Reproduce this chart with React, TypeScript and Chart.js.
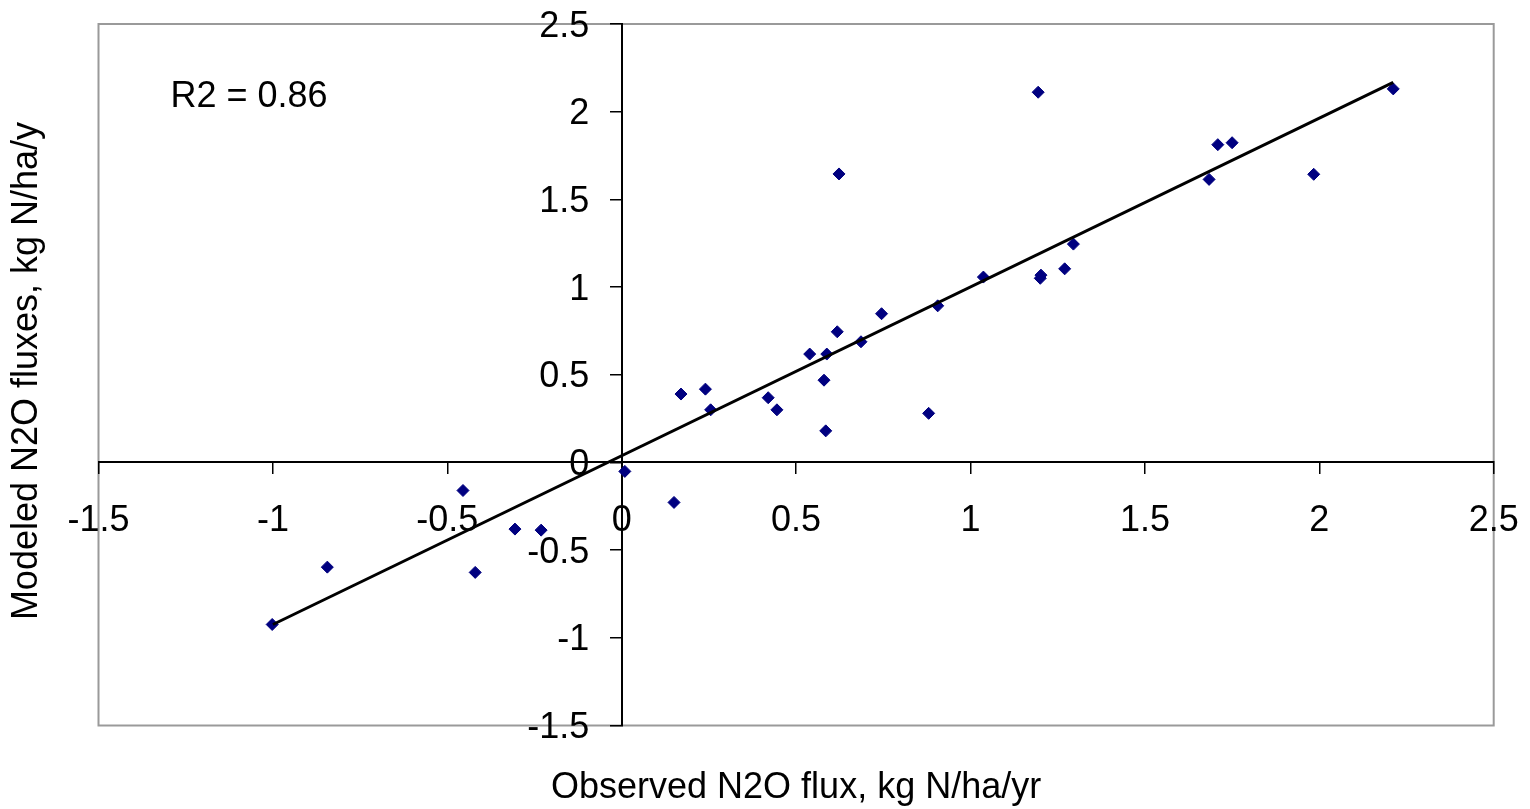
import React, { useEffect, useRef } from "react";
import { Chart, registerables } from "chart.js";

Chart.register(...registerables);

// Observed (x) vs modeled (y) N2O fluxes, kg N/ha/yr
const observed = [
  -1.002, -0.844, -0.455, -0.42, -0.306, -0.231, 0.009, 0.15, 0.17, 0.24, 0.255,
  0.42, 0.445, 0.539, 0.58, 0.588, 0.585, 0.618, 0.623, 0.686, 0.745, 0.88, 0.906,
  1.037, 1.194, 1.2, 1.202, 1.27, 1.295, 1.684, 1.709, 1.75, 1.984, 2.212,
];
const modeled = [
  -0.924, -0.597, -0.16, -0.627, -0.38, -0.386, -0.051, -0.228, 0.39, 0.418, 0.3,
  0.369, 0.3, 0.618, 0.469, 0.618, 0.18, 0.745, 1.645, 0.688, 0.848, 0.28, 0.893,
  1.057, 2.111, 1.05, 1.068, 1.104, 1.245, 1.614, 1.812, 1.823, 1.643, 2.13,
];

// Linear trendline end points
const trendX = [-1.0, 2.212];
const trendY = [-0.924, 2.167];

// Axis ticks
const xTicks = [-1.5, -1, -0.5, 0, 0.5, 1, 1.5, 2, 2.5];
const xTickLabels = ["-1.5", "-1", "-0.5", "0", "0.5", "1", "1.5", "2", "2.5"];
const yTicks = [-1.5, -1, -0.5, 0, 0.5, 1, 1.5, 2, 2.5];
const yTickLabels = ["-1.5", "-1", "-0.5", "0", "0.5", "1", "1.5", "2", "2.5"];

const xTitle = "Observed N2O flux, kg N/ha/yr";
const yTitle = "Modeled N2O fluxes, kg N/ha/y";
const r2Text = "R2 = 0.86";

const FONT = "36px 'Liberation Sans', Arial, sans-serif";

const decorPlugin = {
  id: "decor",
  beforeDraw(chart: any) {
    const { ctx, chartArea, width, height } = chart;
    ctx.save();
    ctx.fillStyle = "#ffffff";
    ctx.fillRect(0, 0, width, height);
    ctx.strokeStyle = "#9a9a9a";
    ctx.lineWidth = 2;
    ctx.strokeRect(
      chartArea.left,
      chartArea.top,
      chartArea.right - chartArea.left,
      chartArea.bottom - chartArea.top
    );
    ctx.restore();
  },
  afterDraw(chart: any) {
    const { ctx, chartArea } = chart;
    const xs = chart.scales.x;
    const ys = chart.scales.y;
    const x0 = xs.getPixelForValue(0);
    const y0 = ys.getPixelForValue(0);
    ctx.save();
    ctx.fillStyle = "#000000";
    ctx.font = FONT;
    ctx.textBaseline = "alphabetic";

    // x tick labels
    ctx.textAlign = "center";
    xTicks.forEach((v, i) => {
      ctx.fillText(xTickLabels[i], xs.getPixelForValue(v), y0 + 68.5);
    });

    // y tick labels
    ctx.textAlign = "right";
    yTicks.forEach((v, i) => {
      ctx.fillText(yTickLabels[i], x0 - 32.5, ys.getPixelForValue(v) + 12.5);
    });

    // R2 annotation
    ctx.textAlign = "left";
    ctx.fillText(r2Text, 170.5, 107);

    // x title
    ctx.textAlign = "center";
    ctx.fillText(xTitle, (chartArea.left + chartArea.right) / 2, 798);

    // y title
    ctx.translate(37, 371);
    ctx.rotate(-Math.PI / 2);
    ctx.textAlign = "center";
    ctx.fillText(yTitle, 0, 0);
    ctx.restore();
  },
};

export default function App() {
  const canvasRef = useRef<HTMLCanvasElement | null>(null);

  useEffect(() => {
    if (!canvasRef.current) return;
    const chart = new Chart(canvasRef.current, {
      type: "scatter",
      data: {
        datasets: [
          {
            type: "line",
            label: "Trend",
            data: trendX.map((x, i) => ({ x, y: trendY[i] })),
            borderColor: "#000000",
            borderWidth: 3,
            pointRadius: 0,
            fill: false,
            tension: 0,
          } as any,
          {
            label: "N2O",
            data: observed.map((x, i) => ({ x, y: modeled[i] })),
            backgroundColor: "#000080",
            borderColor: "#000080",
            borderWidth: 1,
            pointStyle: "rectRot",
            pointRadius: 6,
            pointHoverRadius: 6,
          },
        ],
      },
      options: {
        responsive: false,
        animation: false,
        devicePixelRatio: 1,
        layout: {
          padding: { left: 98.5, right: 36.3, top: 24, bottom: 83.5 },
        },
        plugins: {
          legend: { display: false },
          tooltip: { enabled: false },
          title: { display: false },
        },
        scales: {
          x: {
            type: "linear",
            min: -1.5,
            max: 2.5,
            position: { y: 0 } as any,
            ticks: { stepSize: 0.5, display: false },
            grid: {
              drawOnChartArea: false,
              drawTicks: true,
              tickLength: 11,
              color: "#000000",
              lineWidth: 1.5,
            },
            border: { display: true, color: "#000000", width: 2 },
            afterFit: (s: any) => {
              s.height = 0;
            },
          },
          y: {
            type: "linear",
            min: -1.5,
            max: 2.5,
            position: { x: 0 } as any,
            ticks: { stepSize: 0.5, display: false },
            grid: {
              drawOnChartArea: false,
              drawTicks: true,
              tickLength: 11,
              color: "#000000",
              lineWidth: 1.5,
            },
            border: { display: true, color: "#000000", width: 2 },
            afterFit: (s: any) => {
              s.width = 0;
            },
          },
        },
      },
      plugins: [decorPlugin],
    });
    return () => chart.destroy();
  }, []);

  return (
    <div style={{ position: "fixed", left: 0, top: 0, width: 1530, height: 809, background: "#fff" }}>
      <canvas ref={canvasRef} width={1530} height={809} style={{ display: "block" }} />
    </div>
  );
}
